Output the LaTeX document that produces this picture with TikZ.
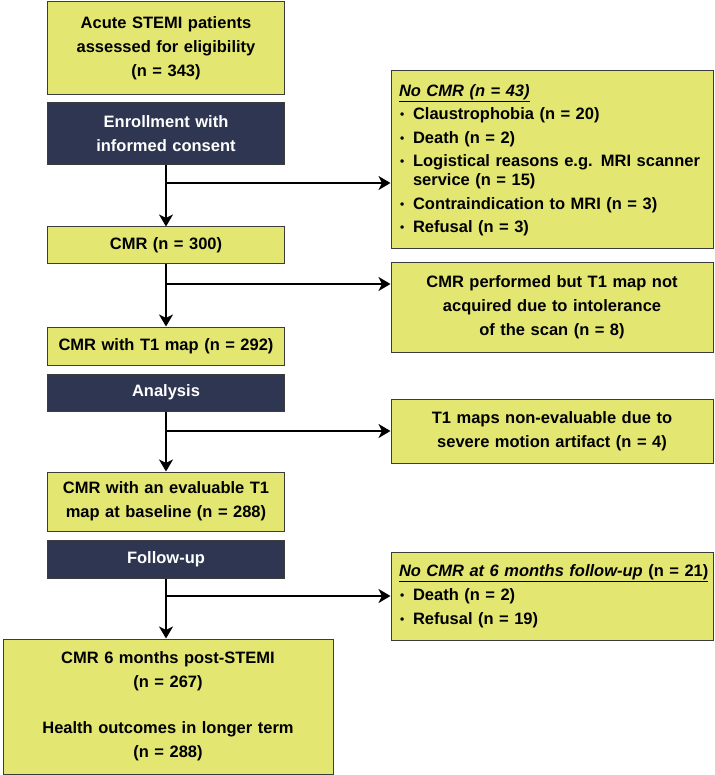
\documentclass[tikz,border=0pt]{standalone}
\usepackage{fontspec}
\setmainfont{Liberation Sans}
\usetikzlibrary{arrows.meta}

\definecolor{boxyellow}{RGB}{227,231,114}
\definecolor{boxnavy}{RGB}{46,54,82}
\definecolor{boxedge}{RGB}{60,60,60}

\newcommand{\itembul}{\makebox[14pt][l]{\hspace{1pt}\raisebox{1pt}{\fontsize{12}{12}\selectfont\textbullet}}}

\tikzset{
  flowbox/.style={draw=boxedge, line width=1pt, fill=boxyellow, inner sep=0pt,
    font=\bfseries\fontsize{16.5}{24}\selectfont, align=center},
  leftbox/.style={flowbox, text width=237pt},
  navybox/.style={leftbox, fill=boxnavy, text=white},
  sidebox/.style={flowbox, text width=322pt},
  listbox/.style={flowbox, text width=306pt, inner xsep=8pt, align=left},
  flowline/.style={line width=2.8pt},
  flowarrow/.style={flowline, -{Stealth[length=12pt,width=14pt,inset=3.5pt]}},
}

\begin{document}
\begin{tikzpicture}[x=1pt,y=-1pt]
\useasboundingbox (0,0) rectangle (714,775);

% Drawing main column
\node[leftbox, minimum height=93pt] (elig) at (166,48) {Acute STEMI patients\\assessed for eligibility\\(n = 343)};
\node[navybox, minimum height=62pt] (enrol) at (166,134) {Enrollment with\\informed consent};
\node[leftbox, minimum height=37pt] (cmr) at (166,245.5) {CMR (n = 300)};
\node[leftbox, minimum height=38pt] (cmrt) at (166,346) {CMR with T1 map (n = 292)};
\node[navybox, minimum height=37pt] (analysis) at (166,392.5) {Analysis};
\node[leftbox, minimum height=59pt] (evalu) at (166,501.5) {CMR with an evaluable T1\\map at baseline (n = 288)};
\node[navybox, minimum height=38pt] (follow) at (166,559) {Follow-up};
\node[flowbox, text width=330pt, minimum height=135pt] (final) at (168,706.5) {CMR 6 months post-STEMI\\(n = 267)\\[22pt]Health outcomes in longer term\\(n = 288)};

% Drawing exclusion boxes
\node[listbox, minimum height=178pt, font=\bfseries\fontsize{16.5}{23.5}\selectfont] (nocmr) at (552,160) {\underline{\itshape No CMR (n = 43)}\\
\itembul Claustrophobia (n = 20)\\
\itembul Death (n = 2)\\
\itembul Logistical reasons e.g. MRI scanner\\[-4.5pt]
\hspace*{14pt}service (n = 15)\\
\itembul Contraindication to MRI (n = 3)\\
\itembul Refusal (n = 3)};
\node[sidebox, minimum height=89pt] (perf) at (552,307.5) {CMR performed but T1 map not\\acquired due to intolerance\\of the scan (n = 8)};
\node[sidebox, minimum height=64pt] (nonev) at (552,431) {T1 maps non-evaluable due to\\severe motion artifact (n = 4)};
\node[listbox, minimum height=88pt] (nofu) at (552,596) {\underline{\itshape No CMR at 6 months follow-up\/ \upshape(n = 21)}\\
\itembul Death (n = 2)\\
\itembul Refusal (n = 19)};

% Drawing branch points
\coordinate (b1) at (166,183);
\coordinate (b2) at (166,284);
\coordinate (b3) at (166,431);
\coordinate (b4) at (166,596);

% Drawing arrows
\draw[flowarrow] (enrol.south) -- (cmr.north);
\draw[flowarrow] (cmr.south) -- (cmrt.north);
\draw[flowarrow] (analysis.south) -- (evalu.north);
\draw[flowarrow] (follow.south) -- (follow.south |- final.north);
\draw[flowarrow] (b1) -- (b1 -| nocmr.west);
\draw[flowarrow] (b2) -- (b2 -| perf.west);
\draw[flowarrow] (b3) -- (b3 -| nonev.west);
\draw[flowarrow] (b4) -- (b4 -| nofu.west);
\end{tikzpicture}
\end{document}
